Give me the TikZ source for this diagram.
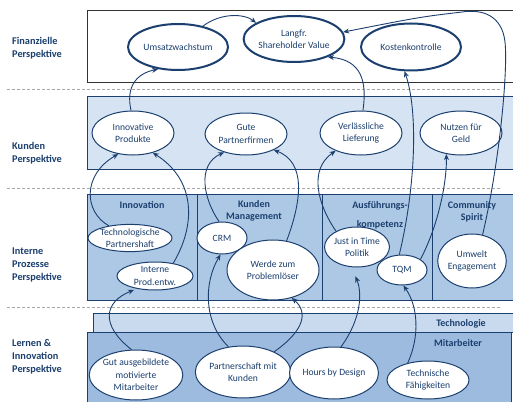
\documentclass[tikz,border=0pt]{standalone}
\usepackage{fontspec}
\setmainfont{Carlito}
\usetikzlibrary{shapes.geometric,arrows.meta}
\definecolor{dblue}{HTML}{1B3F6E}
\definecolor{kfill}{HTML}{D5E3F2}
\definecolor{ifill}{HTML}{ADC8E5}
\definecolor{tfill}{HTML}{C9DAEE}
\definecolor{mfill}{HTML}{9DBBDF}
\definecolor{dgray}{HTML}{A8A8A8}
\begin{document}
\begin{tikzpicture}[x=1pt,y=-1pt,
  ell/.style={ellipse,draw=dblue,fill=white,line width=1pt,inner sep=0pt,align=center,text=dblue,font=\fontsize{9.6}{12.5}\selectfont},
  fin/.style={ell,line width=2pt},
  arr/.style={draw=dblue,line width=0.9pt,-{Stealth[length=6pt,width=5pt]}},
  persp/.style={anchor=west,inner sep=0pt,align=left,text=dblue,font=\bfseries\fontsize{10.3}{12.8}\selectfont},
  hdr/.style={align=center,inner sep=0pt,text=dblue,font=\bfseries\fontsize{10}{12}\selectfont},
  sep/.style={draw=dgray,dash pattern=on 3pt off 2pt,line width=0.6pt},
  box/.style={draw=dblue,line width=0.9pt}
]
\useasboundingbox (0,0) rectangle (513,401);
\fill[white] (0,0) rectangle (513,401);
% boxes
\draw[line width=1pt,draw=black!80,fill=white] (87,11) rectangle (520,83);
\draw[box,fill=kfill] (87,96) rectangle (520,169);
\draw[box,fill=ifill] (87,194) rectangle (520,300);
\draw[box] (197,194) -- (197,300) (322,194) -- (322,300) (432,194) -- (432,300);
\draw[box,fill=tfill] (93,313) rectangle (520,332);
\draw[box,fill=mfill] (87,332) rectangle (511,410);
% separators
\draw[sep] (7,89) -- (500,89);
\draw[sep] (7,188) -- (500,188);
\draw[sep] (7,307) -- (500,307);
% perspective labels
\node[persp] (lf) at (12,48) {Finanzielle\\Perspektive};
\node[persp] (lk) at (12,153.5) {Kunden\\Perspektive};
\node[persp] (li) at (12,265) {Interne\\Prozesse\\Perspektive};
\node[persp] (ll) at (12,357) {Lernen \&\\Innovation\\Perspektive};
% column headers
\node[hdr] (h1) at (142,205) {Innovation};
\node[hdr] (h2) at (254,211) {Kunden\\Management};
\node[hdr] (h3a) at (380,206) {Ausführungs-};
\node[hdr] (h3b) at (380,225) {kompetenz};
\node[hdr] (h4) at (472,212) {Community\\Spirit};
\node[hdr] (ht) at (461,324) {Technologie};
\node[hdr] (hm) at (458,343) {Mitarbeiter};
% financial
\node[fin,minimum width=100pt,minimum height=46pt] (u) at (178,47) {Umsatzwachstum};
\node[fin,minimum width=98pt,minimum height=46pt] (l) at (294,39) {Langfr.\\Shareholder Value};
\node[fin,minimum width=100pt,minimum height=47pt] (k) at (411,47) {Kostenkontrolle};
% customer
\node[ell,minimum width=82pt,minimum height=44pt] (ip) at (133,133) {Innovative\\Produkte};
\node[ell,minimum width=82pt,minimum height=42pt] (gp) at (246,134) {Gute\\Partnerfirmen};
\node[ell,minimum width=82pt,minimum height=44pt] (vl) at (361,133) {Verlässliche\\Lieferung};
\node[ell,minimum width=82pt,minimum height=44pt] (ng) at (461,133) {Nutzen für\\Geld};
% internal
\node[ell,minimum width=70pt,minimum height=27pt] (tp) at (130,238) {Technologische\\Partnershaft};
\node[ell,minimum width=76pt,minimum height=28pt] (pe) at (155,276) {Interne\\Prod.entw.};
\node[ell,minimum width=50pt,minimum height=32pt] (crm) at (222,238) {CRM};
\node[ell,minimum width=92pt,minimum height=60pt] (wp) at (273,270) {Werde zum\\Problemlöser};
\node[ell,minimum width=60pt,minimum height=40pt] (jit) at (357,247) {Just in Time\\Politik};
\node[ell,minimum width=50pt,minimum height=30pt] (tq) at (402,270) {TQM};
\node[ell,minimum width=64pt,minimum height=54pt] (uw) at (472,261) {Umwelt\\Engagement};
% learning
\node[ell,minimum width=88pt,minimum height=50pt] (gm) at (136,375) {Gut ausgebildete\\motivierte\\Mitarbeiter};
\node[ell,minimum width=92pt,minimum height=52pt] (pk) at (243,372) {Partnerschaft mit\\Kunden};
\node[ell,minimum width=84pt,minimum height=52pt] (hd) at (334,373) {Hours by Design};
\node[ell,minimum width=82pt,minimum height=38pt] (tf) at (428,380) {Technische\\Fähigkeiten};
% connectors
\draw[arr] (u.40) .. controls (222,12) and (245,14) .. (l.157);
\draw[arr] (ip.95) .. controls (126,88) and (135,74) .. (u.228);
\draw[arr] (vl.85) .. controls (367,82) and (362,60) .. (l.332);
\draw[arr] (uw.68) .. controls (500,160) and (508,70) .. (505,42) .. controls (502,15) and (482,9) .. (462,12) .. controls (420,17) .. (l.8);
\draw[arr] (tq.100) .. controls (416,185) and (418,110) .. (k.255);
\draw[arr] (tq.30) .. controls (440,222) and (447,178) .. (ng.235);
\draw[arr] (jit.143) .. controls (318,205) and (308,170) .. (vl.215);
\draw[arr] (wp.65) .. controls (302,200) and (306,162) .. (gp.330);
\draw[arr] (crm.100) .. controls (204,200) and (196,165) .. (gp.220);
\draw[arr] (pe.35) .. controls (196,225) and (196,180) .. (ip.315);
\draw[arr] (tp.150) .. controls (84,212) and (82,175) .. (ip.235);
\draw[arr,shorten >=3pt] (gm.100) .. controls (100,325) and (104,302) .. (pe.215);
\draw[arr] (pk.120) .. controls (203,322) and (204,282) .. (crm.265);
\draw[arr] (pk.33) .. controls (305,330) and (308,312) .. (wp.304);
\draw[arr,shorten >=10pt] (hd.75) .. controls (362,318) and (362,292) .. (jit.255);
\draw[arr] (tf.140) .. controls (420,336) and (418,306) .. (tq.275);
\end{tikzpicture}
\end{document}
